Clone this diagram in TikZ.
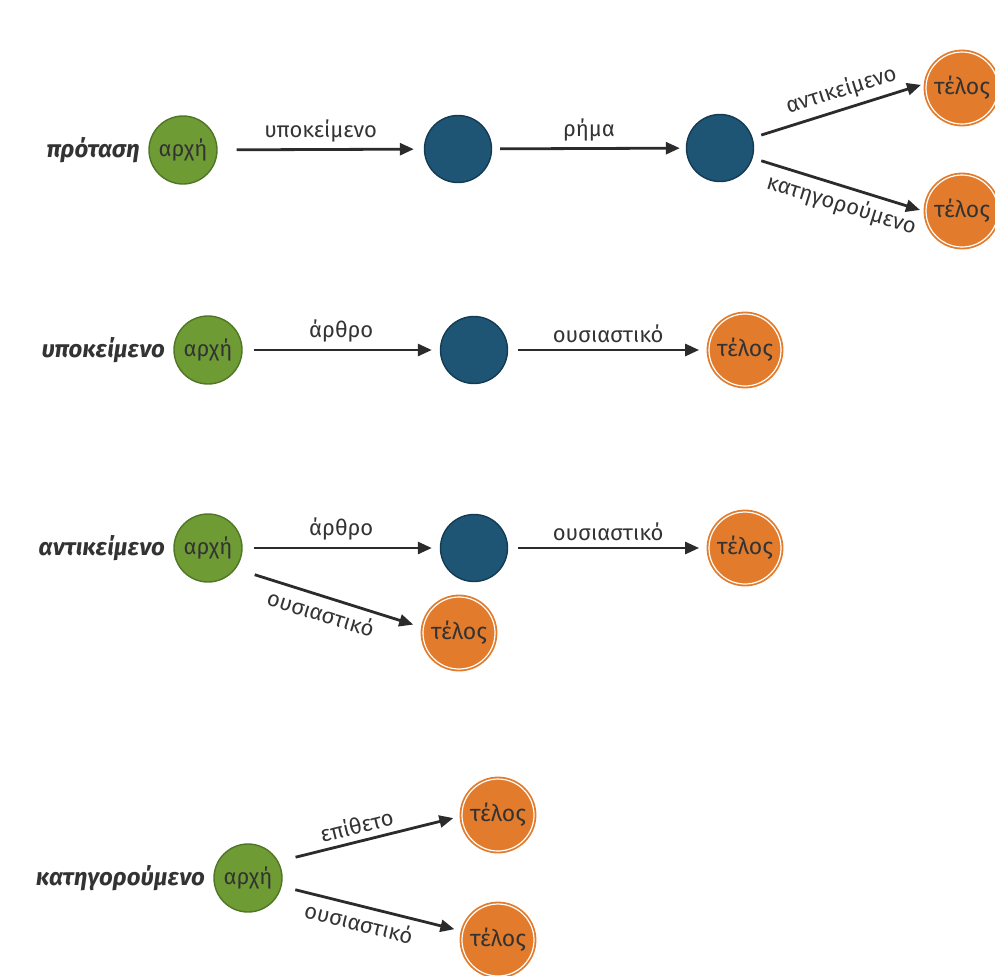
\documentclass[tikz,border=0pt]{standalone}
\usepackage{fontspec}
\setmainfont{Fira Sans}
\usetikzlibrary{arrows.meta}
\definecolor{startgreen}{HTML}{6E9B34}
\definecolor{startdark}{HTML}{4F7626}
\definecolor{midblue}{HTML}{1E5574}
\definecolor{middark}{HTML}{143B52}
\definecolor{endorange}{HTML}{E27B2C}
\definecolor{txt}{HTML}{333333}
\definecolor{linec}{HTML}{2B2B2B}
\begin{document}
\begin{tikzpicture}[x=1pt,y=-1pt,
  every node/.style={text=txt},
  start/.style={circle, fill=startgreen, draw=startdark, line width=1.4pt,
    minimum size=68pt, inner sep=0pt, font=\fontsize{22}{26}\selectfont},
  mid/.style={circle, fill=midblue, draw=middark, line width=1.4pt,
    minimum size=67pt, inner sep=0pt},
  final/.style={circle, fill=endorange, draw=endorange, double=white,
    double distance=1.2pt, line width=1.8pt, minimum size=72pt, inner sep=0pt,
    font=\fontsize{23}{27}\selectfont},
  title/.style={anchor=east, xshift=-5pt,
    font=\fontsize{24}{28}\selectfont\bfseries\itshape},
  link/.style={draw=linec, line width=2.8pt,
    -{Triangle[length=14pt,width=12pt]}, shorten <=12pt, shorten >=9pt},
  lab/.style={font=\fontsize{22}{26}\selectfont, inner sep=6pt},
]
\useasboundingbox (0,0) rectangle (995,975);

% sentence
\node[start] (a1) at (183,150) {αρχή};
\node[title] (n1) at (a1.west) {πρόταση};
\node[mid] (b1) at (458,149) {};
\node[mid] (b2) at (720,148) {};
\node[final] (t1) at (962,88) {τέλος};
\node[final] (t2) at (962,211) {τέλος};
\draw[link, shorten <=19pt, shorten >=10pt] (a1) -- node[lab, above] {υποκείμενο} (b1);
\draw[link, shorten <=8pt, shorten >=6pt] (b1) -- node[lab, above] {ρήμα} (b2);
\draw[link, shorten <=9pt, shorten >=43pt] (b2) --
  node[lab, above, sloped, pos=0.45] {αντικείμενο} ([yshift=16pt]t1.center);
\draw[link, shorten <=9pt, shorten >=44pt] (b2) --
  node[lab, below, sloped, pos=0.45] {κατηγορούμενο} ([yshift=-12pt]t2.center);

% subject
\node[start] (a2) at (208,350) {αρχή};
\node[title] (n2) at (a2.west) {υποκείμενο};
\node[mid] (b3) at (474,350) {};
\node[final] (t3) at (745,350) {τέλος};
\draw[link, shorten <=11pt, shorten >=8pt] (a2) -- node[lab, above] {άρθρο} (b3);
\draw[link, shorten <=10pt, shorten >=9pt] (b3) -- node[lab, above] {ουσιαστικό} (t3);

% object
\node[start] (a3) at (208,548) {αρχή};
\node[title] (n3) at (a3.west) {αντικείμενο};
\node[mid] (b4) at (474,548) {};
\node[final] (t4) at (745,548) {τέλος};
\node[final] (t5) at (459,633) {τέλος};
\draw[link, shorten <=11pt, shorten >=8pt] (a3) -- node[lab, above] {άρθρο} (b4);
\draw[link, shorten <=10pt, shorten >=9pt] (b4) -- node[lab, above] {ουσιαστικό} (t4);
\draw[link, shorten <=49pt, shorten >=48pt] ([yshift=-12pt]a3.center) --
  node[lab, below, sloped, pos=0.47] {ουσιαστικό} ([yshift=-6pt]t5.center);

% predicate
\node[start] (a4) at (248,878) {αρχή};
\node[title] (n4) at (a4.west) {κατηγορούμενο};
\node[final] (t6) at (498,815) {τέλος};
\node[final] (t7) at (498,940) {τέλος};
\draw[link, shorten <=49pt, shorten >=46pt] ([yshift=9pt]a4.center) --
  node[lab, above, sloped, pos=0.45] {επίθετο} ([yshift=8pt]t6.center);
\draw[link, shorten <=14pt, shorten >=8pt] (a4) --
  node[lab, below, sloped, pos=0.45] {ουσιαστικό} (t7);
\end{tikzpicture}
\end{document}
